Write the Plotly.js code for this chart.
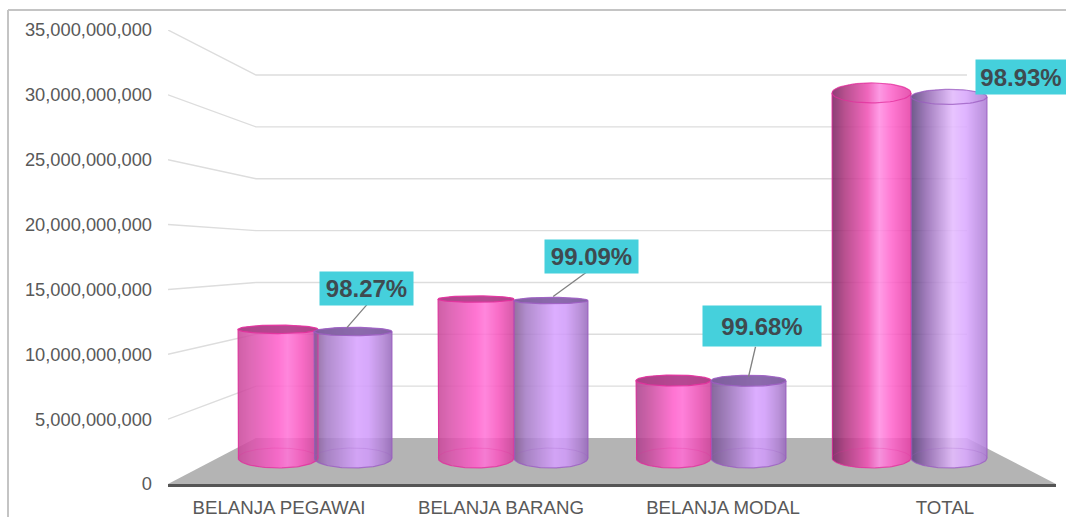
<!DOCTYPE html>
<html>
<head>
<meta charset="utf-8">
<script src="https://cdn.plot.ly/plotly-3.0.1.min.js"></script>
<style>html,body{margin:0;padding:0;background:#fff;overflow:hidden}#c{width:1066px;height:517px}</style>
</head>
<body>
<div id="c"></div>
<script>
// ---- data ----
const categories = ['BELANJA PEGAWAI', 'BELANJA BARANG', 'BELANJA MODAL', 'TOTAL'];
const pagu = [10.46e9, 12.92e9, 6.30e9, 29.68e9];
const realisasi = [10.28e9, 12.80e9, 6.28e9, 29.36e9];
const percentLabels = ['98.27%', '99.09%', '99.68%', '98.93%'];
const yTicks = [0, 5e9, 10e9, 15e9, 20e9, 25e9, 30e9, 35e9];

// ---- style / layout constants ----
const W = 1066, H = 517, L = 168, R = 10, T = 30, B = 33;
const plotW = W - L - R, plotH = H - T - B;
const yMax = 35e9;
const pxPerCat = plotW / 4;
const barPxPerUnit = 12.3e-9;            // front plane scale of the bars
const barBaseLift = 26;                  // px between axis and bar base centre
const y2Range = [-barBaseLift / barPxPerUnit, (plotH - barBaseLift) / barPxPerUnit];
const px = v => v / barPxPerUnit;        // px height to data units on y2
const wallLift = 0.1013 * yMax;          // back wall floor, in main axis units
const wallScale = 0.7995;
const wallY = v => wallLift + v * wallScale;
const kneeX = -0.1036, wallRight = 3.099;

const pinkCentre = [-0.0045, 0.887, 1.777, 2.669];
const blueCentre = [0.333, 1.225, 2.115, 3.018];
const pinkHalf = [0.18, 0.171, 0.169, 0.178];
const blueHalf = [0.176, 0.167, 0.169, 0.171];
const capPink = [4.2, 3.2, 5.5, 10];
const capBlue = [4.2, 3.2, 5.5, 7.5];
const capAlpha = [0.92, 0.92, 0.92, 0.03];
const capLine = [0.9, 0.9, 0.9, 0.75];
const baseE = 10;

const gradPink = [[0,'#cf5fa6'],[0.14,'#dc68b4'],[0.5,'#ff74d2'],[0.62,'#ff86dc'],[0.8,'#f86cc6'],[1,'#d65aa8']];
const gradBlue = [[0,'#93719f'],[0.16,'#b08ccc'],[0.55,'#dcadff'],[0.7,'#d6a8fa'],[0.88,'#bb92da'],[1,'#a47cc4']];
const gradPinkM = [[0,'#b5589a'],[0.18,'#cf62aa'],[0.5,'#ff74d2'],[0.62,'#ff80da'],[0.85,'#ec66bc'],[1,'#d65aa8']];
const gradBlueM = [[0,'#86689c'],[0.2,'#a17fbc'],[0.6,'#dcadff'],[0.72,'#d6a8fa'],[0.9,'#bb92da'],[1,'#a47cc4']];
const gradPinkT = [[0,'#8a3f75'],[0.16,'#b8508f'],[0.45,'#f268be'],[0.6,'#ff9ce6'],[0.76,'#ff78d2'],[1,'#e857b0']];
const gradBlueT = [[0,'#6e5a8a'],[0.2,'#a17cbc'],[0.55,'#e8c4ff'],[0.72,'#dfb4ff'],[1,'#b68cd8']];
const pinkGrads = [gradPink, gradPink, gradPinkM, gradPinkT];
const blueGrads = [gradBlue, gradBlue, gradBlueM, gradBlueT];
const BAR_ALPHA = 0.86;

function hex(h){return [1,3,5].map(k=>parseInt(h.substr(k,2),16));}
function gradColor(g,t){
  for(let k=1;k<g.length;k++){
    if(t<=g[k][0]){
      const f=(t-g[k-1][0])/(g[k][0]-g[k-1][0]);
      const a=hex(g[k-1][1]),b=hex(g[k][1]);
      const c=a.map((v,n)=>{
        const d=v+(b[n]-v)*f;
        return Math.max(0,Math.min(255,Math.round((d-255*(1-BAR_ALPHA))/BAR_ALPHA)));
      });
      return 'rgb('+c.join(',')+')';
    }
  }
  return g[g.length-1][1];
}

const traces = [];
// floor
traces.push({type:'scatter',mode:'lines',xaxis:'x',yaxis:'y',hoverinfo:'skip',showlegend:false,
  x:[-0.5,kneeX,wallRight,3.5,-0.5],y:[0,wallY(0),wallY(0),0,0],
  fill:'toself',fillcolor:'#b4b4b4',line:{width:0}});
// perspective gridlines
yTicks.slice(1).forEach(v=>{
  traces.push({type:'scatter',mode:'lines',xaxis:'x',yaxis:'y',hoverinfo:'skip',showlegend:false,
    x:[-0.5,kneeX,wallRight],y:[v,wallY(v),wallY(v)],line:{color:'#dddddd',width:1.4}});
});

function ellipse(xc,hw,yc,e,from,to){
  const xs=[],ys=[],n=64;
  for(let k=0;k<=n;k++){
    const a=from+(to-from)*k/n;
    xs.push(xc+hw*Math.cos(a));ys.push(yc+e*Math.sin(a));
  }
  return {xs,ys};
}

function cylinder(xcIn,hwIn,val,capE,grad,edge,capFill,alphaCap,lineOp){
  // one bar per device pixel column, edges snapped to whole pixels
  const leftPx=Math.round((xcIn-hwIn+0.5)*pxPerCat);
  const rightPx=Math.round((xcIn+hwIn+0.5)*pxPerCat);
  const n=rightPx-leftPx,sw=1/pxPerCat;
  const xc=(leftPx+rightPx)/2/pxPerCat-0.5,hw=n/2/pxPerCat;
  const xs=[],bases=[],hs=[],cols=[];
  for(let k=0;k<n;k++){
    const t=(k+0.5)/n,u=2*t-1,r=Math.sqrt(1-u*u);
    const b=-px(baseE)*r,top=val+px(capE)*r;
    xs.push((leftPx+k+0.5)/pxPerCat-0.5);bases.push(b);hs.push(top-b);cols.push(gradColor(grad,t));
  }
  traces.push({type:'bar',xaxis:'x',yaxis:'y2',hoverinfo:'skip',showlegend:false,
    x:xs,y:hs,base:bases,width:sw,marker:{color:cols,opacity:BAR_ALPHA,line:{width:0}}});
  // far rim of the base
  const back=ellipse(xc,hw,0,px(baseE),0,Math.PI);
  traces.push({type:'scatter',mode:'lines',xaxis:'x',yaxis:'y2',hoverinfo:'skip',showlegend:false,
    x:back.xs,y:back.ys,line:{color:edge,width:0.8},opacity:0.3});
  // body outline
  const bot=ellipse(xc,hw,0,px(baseE),Math.PI,2*Math.PI);
  traces.push({type:'scatter',mode:'lines',xaxis:'x',yaxis:'y2',hoverinfo:'skip',showlegend:false,
    x:[xc-hw].concat(bot.xs,[xc+hw]),y:[val].concat(bot.ys,[val]),line:{color:edge,width:1.2},opacity:0.75});
  // cap
  const cap=ellipse(xc,hw,val,px(capE),0,2*Math.PI);
  traces.push({type:'scatter',mode:'lines',xaxis:'x',yaxis:'y2',hoverinfo:'skip',showlegend:false,
    x:cap.xs,y:cap.ys,fill:'toself',fillcolor:capFill.replace('A',alphaCap),line:{color:edge,width:1.2},opacity:lineOp});
}

categories.forEach((c,i)=>{
  cylinder(pinkCentre[i],pinkHalf[i],pagu[i],capPink[i],pinkGrads[i],'#e22f9c','rgba(168,62,132,A)',capAlpha[i],capLine[i]);
  cylinder(blueCentre[i],blueHalf[i],realisasi[i],capBlue[i],blueGrads[i],'#9a5cc0','rgba(124,92,156,A)',capAlpha[i],capLine[i]);
});

// leader lines, from the top of each second cylinder to its label
const leaderDx = [20,37,7];
const leaderDy = [23,27,30];
const leaderTip = [-0.027,0.01,0];
[0,1,2].forEach(i=>{
  const tipX=blueCentre[i]+leaderTip[i];
  traces.push({type:'scatter',mode:'lines',xaxis:'x',yaxis:'y2',hoverinfo:'skip',showlegend:false,
    x:[tipX,tipX+leaderDx[i]/pxPerCat],y:[realisasi[i]+px(4),realisasi[i]+px(4+leaderDy[i])],
    line:{color:'#808080',width:1.3}});
});

// label box placement, px relative to top of each second cylinder
const labelShift = [[13.5,43.5],[40.5,44],[13.5,54.5],[72,20]];
const labelSize = [[91,31],[91,31],[116,38],[88,32]];
const annotations = categories.map((c,i)=>({
  xref:'x',yref:'y2',x:blueCentre[i],y:realisasi[i],xanchor:'center',yanchor:'middle',
  xshift:labelShift[i][0],yshift:labelShift[i][1],
  text:'<b>'+percentLabels[i]+'</b>',showarrow:false,
  width:labelSize[i][0],height:labelSize[i][1],align:'center',valign:'middle',
  bgcolor:'#45d0dc',borderpad:1,
  font:{family:'Liberation Sans, Arial, sans-serif',size:24,color:'#3f4a50'}
}));

const layout = {
  width:W,height:H,autosize:false,
  margin:{l:L,r:R,t:T,b:B,pad:0},
  paper_bgcolor:'#fff',plot_bgcolor:'rgba(0,0,0,0)',
  showlegend:false,barmode:'overlay',hovermode:false,
  font:{family:'Liberation Sans, Arial, sans-serif',color:'#595959'},
  xaxis:{type:'linear',range:[-0.5,3.5],tickmode:'array',tickvals:[0,1,2,3],ticktext:categories,
    showgrid:false,zeroline:false,showline:true,linecolor:'#555555',linewidth:2.5,ticks:'',
    ticklabelstandoff:5,tickfont:{size:18.7,color:'#595959'},fixedrange:true},
  yaxis:{range:[0,yMax],tickmode:'array',tickvals:yTicks,tickformat:',d',showgrid:false,zeroline:false,
    showline:false,ticks:'',ticklabelstandoff:15,tickfont:{size:18.3,color:'#595959'},fixedrange:true},
  yaxis2:{range:y2Range,overlaying:'y',side:'left',visible:false,fixedrange:true},
  annotations:annotations,
  shapes:[
    {type:'line',xref:'paper',yref:'paper',x0:(8-L)/plotW,x1:(W-L)/plotW,y0:(H-B-10)/plotH,y1:(H-B-10)/plotH,line:{color:'#c4c4c4',width:2},layer:'below'},
    {type:'line',xref:'paper',yref:'paper',x0:(8-L)/plotW,x1:(8-L)/plotW,y0:(H-B-10)/plotH,y1:-B/plotH,line:{color:'#c4c4c4',width:2},layer:'below'}
  ]
};
Plotly.newPlot('c',traces,layout,{displayModeBar:false,staticPlot:true});
</script>
</body>
</html>
